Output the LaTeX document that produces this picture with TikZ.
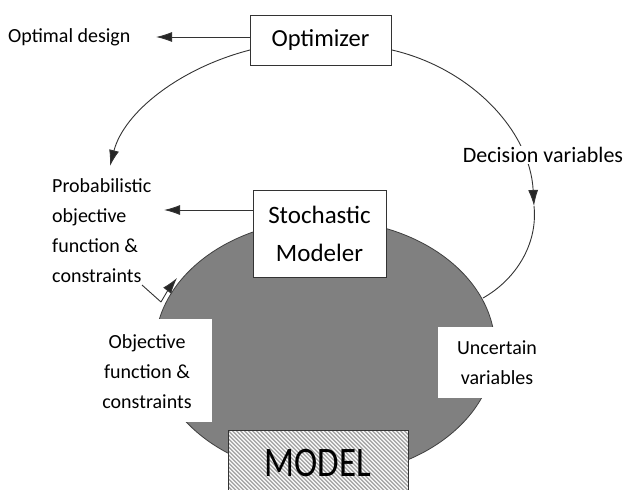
\documentclass[tikz,border=0pt]{standalone}
\usepackage{fontspec}
\setmainfont{Carlito}
\usetikzlibrary{arrows.meta,shapes.geometric}

\tikzset{
  x=1pt, y=-1pt,
  boxnode/.style={draw=black!80, line width=0.8pt, fill=white, inner sep=0pt},
  label20/.style={inner sep=0pt, font=\fontsize{20}{30}\selectfont},
  flow/.style={draw=black!80, line width=0.9pt},
  tip/.style={-{Latex[length=16pt,width=10pt,fill=black!85]}},
  hatch/.style={draw=black!35, line width=1.4pt},
  hatched/.style={path picture={
    \foreach \k in {0,4,...,264} {
      \draw[hatch] ([xshift=\k pt-84pt,yshift=4pt]path picture bounding box.north west) -- ++(84,84);
    }}},
}

\begin{document}
\begin{tikzpicture}
\useasboundingbox (0,0) rectangle (627,490);

% the model: grey ellipse
\node (model) [ellipse, minimum width=340pt, minimum height=256pt,
  fill=black!50, draw=black!75, line width=0.8pt] at (325,348) {};

% white panels for the model's input and output labels
\fill[white] (95,319) rectangle (212,422);
\fill[white] (438,327) rectangle (556,398);

% boxes
\node (opt) [boxnode, minimum width=141pt, minimum height=50pt,
  font=\fontsize{24.5}{30}\selectfont] at (320.5,40) {Optimizer};
\node (sm) [boxnode, minimum width=133pt, minimum height=87pt,
  align=center, font=\fontsize{25}{38}\selectfont] at (319.5,233.5) {Stochastic\\Modeler};

% hatched model box
\node (mdl) [boxnode, hatched, minimum width=180pt, minimum height=70pt,
  anchor=north] at (318,430) {};
\node (mdltext) [inner sep=0pt, font=\fontsize{35}{40}\selectfont] at (318,463)
  {\scalebox{1}[1.2]{MODEL}};

% labels
\node (optdes) [label20, anchor=west] at (8,37) {Optimal design};
\node (prob) [label20, anchor=north west, align=left] at (52,178)
  {Probabilistic\\objective\\function \&\\constraints};
\node (objf) [label20, align=center] at (147,372)
  {Objective\\function \&\\constraints};
\node (unc) [label20, align=center] at (497,363) {Uncertain\\variables};

% connector end points
\coordinate (optW) at (250,37);
\coordinate (optdesTip) at (156,37);
\coordinate (smW) at (253,210);
\coordinate (probTip) at (164,210);
\coordinate (optL) at (250,50);
\coordinate (optR) at (392,50);
\coordinate (leftTip) at (110,166);
\coordinate (rightMid) at (534,206);
\coordinate (modelR) at (483,298);
\coordinate (prbEnd) at (142,285);
\coordinate (edgeLow) at (161,302);
\coordinate (edgeTip) at (177,278);

% straight outputs
\draw[flow,tip] (optW) -- (optdesTip);
\draw[flow,tip] (smW) -- (probTip);

% loop back from the optimizer
\draw[flow,tip] (optL) .. controls (180,68) and (124,112) .. (leftTip);

% decision variables into the model
\draw[flow,tip] (optR) .. controls (470,68) and (530,130) .. (rightMid);
\draw[flow] (rightMid) .. controls (538,245) and (515,280) .. (modelR);
\node (dec) [fill=white, inner sep=1pt, font=\fontsize{22}{26}\selectfont] at (543,155)
  {Decision variables};

% objective function up to the stochastic modeler
\draw[flow] (prbEnd) -- (edgeLow);
\draw[flow,tip] (edgeLow) .. controls (165,295) and (170,287) .. (edgeTip);
\end{tikzpicture}
\end{document}
